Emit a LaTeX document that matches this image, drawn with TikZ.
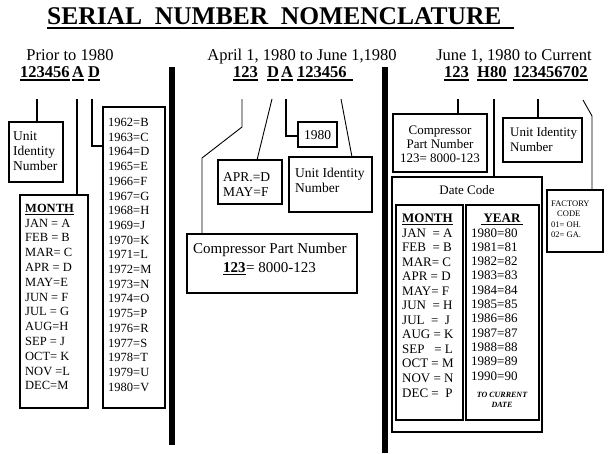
\documentclass[tikz,border=0pt]{standalone}
\usepackage{fontspec}
\setmainfont{Liberation Serif}
\begin{document}
\begin{tikzpicture}[x=1pt,y=-1pt,
  bx/.style={draw,line width=2.8pt,inner sep=0pt,outer sep=0pt,anchor=north west},
  conn/.style={line width=1.5pt},
  thinconn/.style={line width=0.9pt},
  ulin/.style={line width=1.3pt},
  bar/.style={fill=black,draw=none},
  tt/.style={inner sep=0pt,anchor=base west},
  tc/.style={inner sep=0pt,anchor=base},
  hd/.style={tc,font=\fontsize{16.5}{18}\selectfont},
  sn/.style={tt,font=\fontsize{16.5}{18}\bfseries\selectfont},
  lt/.style={tt,font=\fontsize{12.5}{14}\selectfont},
  rt/.style={tt,font=\fontsize{13}{15}\selectfont},
  ut/.style={tt,font=\fontsize{13.5}{15}\selectfont},
  ft/.style={tt,font=\fontsize{8.5}{9}\selectfont}
]
\useasboundingbox (0,0) rectangle (613,453);

% title
\node[tt,font=\fontsize{25.5}{28}\bfseries\selectfont] (title) at (47,24) {SERIAL\ \ NUMBER\ \ NOMENCLATURE};
\coordinate (tulend) at (514,28);
\draw[line width=2pt] (title.base west |- tulend) -- (tulend);

% separators
\fill[bar] (169,67) rectangle (175,445);
\fill[bar] (382,67) rectangle (388,453);

% headings
\node[hd] (h1) at (70,60) {Prior to 1980};
\node[hd] (h2) at (302,60) {April 1, 1980 to June 1,1980};
\node[hd] (h3) at (514,60) {June 1, 1980 to Current};

% serial numbers
\node[sn] (s1a) at (20,77) {123456};
\node[sn] (s1b) at (72,77) {A};
\node[sn] (s1c) at (88,77) {D};
\node[sn] (s2a) at (233,77) {123};
\node[sn] (s2b) at (267,77) {D};
\node[sn] (s2c) at (281,77) {A};
\node[sn] (s2d) at (297,77) {123456};
\node[sn] (s3a) at (444,77) {123};
\node[sn] (s3b) at (477,77) {H80};
\node[sn] (s3c) at (513,77) {1234567};
\node[sn] (s3d) at (571,77) {02};
\foreach \n in {s1a,s1b,s1c,s2a,s2b,s2c,s3a,s3b,s3c,s3d}
  \draw[ulin] ([yshift=-3pt]\n.base west) -- ([yshift=-3pt]\n.base east);
\draw[ulin] ([yshift=-3pt]s2d.base west) -- ([yshift=-3pt,xshift=6pt]s2d.base east);

% ---------- left section ----------
\node[bx,minimum width=54pt,minimum height=60pt] (uin1) at (9,122) {};
\node[ut] (uin1a) at (13,140) {Unit};
\node[ut] (uin1b) at (13,155) {Identity};
\node[ut] (uin1c) at (13,170) {Number};

\node[bx,minimum width=68pt,minimum height=213pt] (mon1) at (20,195) {};
\node[lt,font=\fontsize{12.5}{14}\bfseries\selectfont] (mon1h) at (25,212) {MONTH};
\draw[line width=1pt] ([yshift=-2pt]mon1h.base west) -- ([yshift=-2pt]mon1h.base east);
\foreach \t [count=\i from 0] in {JAN = A,FEB = B,MAR= C,APR = D,MAY=E,JUN = F,JUL = G,AUG=H,SEP = J,OCT= K,NOV =L,DEC=M}
  \node[lt] (lm\i) at (25,{227+14.8*\i}) {\t};

\node[bx,minimum width=62pt,minimum height=301pt] (yr1) at (103,107) {};
\foreach \l [count=\i from 0, evaluate=\i as \yy using int(1962+\i)] in {B,C,D,E,F,G,H,J,K,L,M,N,O,P,R,S,T,U,V}
  \node[lt] (ly\i) at (108,{126.5+14.7*\i}) {\yy=\l};

\coordinate (c1a) at (37,99);
\coordinate (c1b) at (77,99);
\coordinate (c1c) at (92,99);
\draw[conn] (c1a) -- (c1a |- uin1.north);
\draw[conn] (c1b) -- (c1b |- mon1.north);
\draw[conn] (c1c) -- (92,146) -- (yr1.west |- 0,146);

% ---------- middle section ----------
\node[bx,minimum width=39pt,minimum height=25pt] (y80) at (298,122) {};
\node[tc,font=\fontsize{13.5}{15}\selectfont] (y80t) at ([yshift=-4.5pt]y80.center) {1980};

\node[bx,minimum width=64pt,minimum height=44pt] (aprb) at (218,160) {};
\node[ut] (apra) at (223,181) {APR.=D};
\node[ut] (aprc) at (223,196) {MAY=F};

\node[bx,minimum width=83pt,minimum height=55pt] (uin2) at (289,157) {};
\node[ut] (uin2a) at (295,177) {Unit Identity};
\node[ut] (uin2b) at (295,192) {Number};

\node[bx,minimum width=170pt,minimum height=59pt] (comp2) at (187,234) {};
\node[tt,font=\fontsize{15}{17}\selectfont] (comp2a) at (193,253) {Compressor Part Number};
\node[tt,font=\fontsize{15}{17}\bfseries\selectfont] (comp2b) at (223,272) {123};
\draw[line width=1.2pt] ([yshift=-2.5pt]comp2b.base west) -- ([yshift=-2.5pt]comp2b.base east);
\node[tt,font=\fontsize{15}{17}\selectfont] (comp2c) at (comp2b.base east) {= 8000-123};

\coordinate (c2a) at (242,99);
\coordinate (c2b) at (272,99);
\coordinate (c2c) at (286,99);
\coordinate (c2d) at (341,99);
\draw[thinconn] (c2a) -- (242,127) -- (202,158) -- (202,0 |- comp2.north);
\draw[thinconn] (c2b) -- (257,0 |- aprb.north);
\draw[conn] (c2c) -- (286,136) -- (y80.west |- 0,136);
\draw[thinconn] (c2d) -- (352,0 |- uin2.north);

% ---------- right section ----------
\node[bx,minimum width=94pt,minimum height=58pt] (comp3) at (393,114) {};
\node[tc,font=\fontsize{13}{15}\selectfont] (comp3a) at (440,134) {Compressor};
\node[tc,font=\fontsize{13}{15}\selectfont] (comp3b) at (440,148) {Part Number};
\node[tc,font=\fontsize{13}{15}\selectfont] (comp3c) at (440,162) {123= 8000-123};

\node[bx,minimum width=79pt,minimum height=44pt] (uin3) at (503,118) {};
\node[rt] (uin3a) at (510,136) {Unit Identity};
\node[rt] (uin3b) at (510,151) {Number};

\node[bx,minimum width=150pt,minimum height=255pt] (datebox) at (392,177) {};
\node[tc,font=\fontsize{13}{15}\selectfont] (datet) at (467,194) {Date Code};

\node[bx,minimum width=67pt,minimum height=215pt] (mon3) at (396,205) {};
\node[rt,font=\fontsize{13}{15}\bfseries\selectfont] (mon3h) at (402,222) {MONTH};
\draw[line width=1pt] ([yshift=-2pt]mon3h.base west) -- ([yshift=-2pt]mon3h.base east);
\foreach \t [count=\i from 0] in {JAN\ \ = A,FEB\ \ = B,MAR= C,APR = D,MAY= F,JUN\ \ = H,JUL\ \ =\ \ J,AUG = K,SEP\ \ \ = L,OCT = M,NOV = N,DEC =\ \ P}
  \node[rt] (rm\i) at (402,{237+14.55*\i}) {\t};

\node[bx,minimum width=73pt,minimum height=215pt] (yr3) at (466,205) {};
\node[tc,font=\fontsize{13}{15}\bfseries\selectfont] (yr3h) at (502,222) {YEAR};
\draw[line width=1pt] ([yshift=-2pt,xshift=-2pt]yr3h.base west) -- ([yshift=-2pt,xshift=2pt]yr3h.base east);
\foreach \i in {0,...,10}
  \node[rt] (ry\i) at (471,{237+14.3*\i}) {\the\numexpr1980+\i\relax=\the\numexpr80+\i\relax};
\node[tc,font=\fontsize{8}{9}\bfseries\itshape\selectfont] (tocur) at (502,397) {TO CURRENT};
\node[tc,font=\fontsize{8}{9}\bfseries\itshape\selectfont] (todate) at (502,407) {DATE};

\node[bx,minimum width=56pt,minimum height=62pt] (fact) at (547,190) {};
\node[ft] (fa) at (551,206) {FACTORY};
\node[ft] (fb) at (557,216) {CODE};
\node[ft] (fc) at (551,227) {01= OH.};
\node[ft] (fd) at (551,237) {02= GA.};

\coordinate (c3a) at (458,99);
\coordinate (c3b) at (494,99);
\coordinate (c3c) at (538,99);
\coordinate (c3d) at (583,100);
\draw[conn] (c3a) -- (c3a |- comp3.north);
\draw[conn] (c3b) -- (c3b |- datebox.north);
\draw[conn] (c3c) -- (c3c |- uin3.north);
\draw[thinconn] (c3d) -- (592,116) -- (592,0 |- fact.north);
\end{tikzpicture}
\end{document}
